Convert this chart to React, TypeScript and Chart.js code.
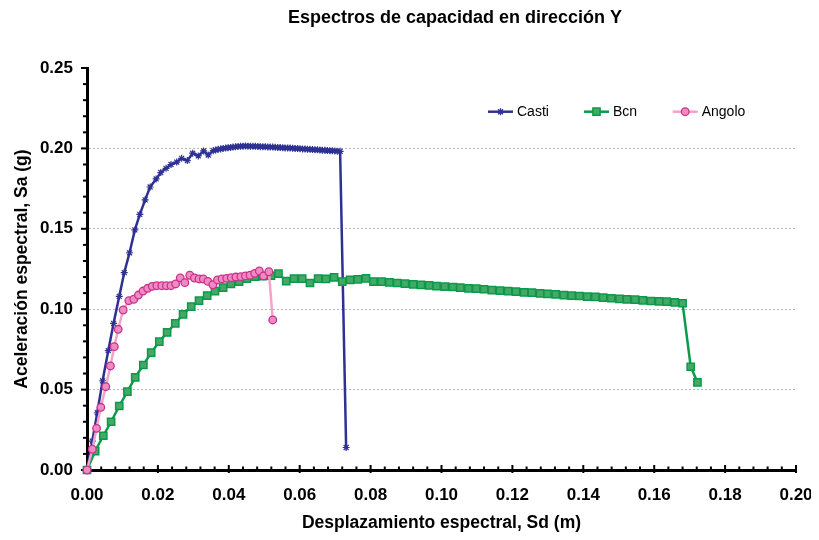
import React, { useEffect, useRef } from "react";
import { Chart, registerables } from "chart.js";

Chart.register(...registerables);

const TITLE = "Espectros de capacidad en dirección Y";
const X_TITLE = "Desplazamiento espectral, Sd (m)";
const Y_TITLE = "Aceleración espectral, Sa (g)";
const SERIES_NAMES = ["Casti", "Bcn", "Angolo"];

const castiSd = [
  0, 0.0015, 0.0029, 0.0044, 0.006, 0.0075, 0.0091, 0.0105, 0.012, 0.0135, 0.0149, 0.0164,
  0.0178, 0.0195, 0.0208, 0.0223, 0.0237, 0.0253, 0.0267, 0.0283, 0.0298, 0.0314, 0.0329,
  0.0342, 0.0356, 0.0363, 0.037, 0.0377, 0.0384, 0.0391, 0.0398, 0.0405, 0.0412, 0.0419,
  0.0426, 0.0433, 0.044, 0.0447, 0.0454, 0.0461, 0.0468, 0.0475, 0.0482, 0.0489, 0.0496,
  0.0503, 0.051, 0.0517, 0.0524, 0.0531, 0.0538, 0.0545, 0.0552, 0.0559, 0.0566, 0.0573,
  0.058, 0.0587, 0.0594, 0.0601, 0.0608, 0.0615, 0.0622, 0.0629, 0.0636, 0.0643, 0.065,
  0.0657, 0.0664, 0.0671, 0.0678, 0.0685, 0.0692, 0.0699, 0.0706, 0.0714, 0.0731,
];
const castiSa = [
  0, 0.018, 0.0356, 0.0555, 0.0742, 0.0912, 0.108, 0.1227, 0.1351, 0.1493, 0.159, 0.168,
  0.176, 0.181, 0.185, 0.1876, 0.19, 0.1915, 0.1938, 0.1924, 0.197, 0.1953, 0.1984,
  0.1959, 0.1986, 0.199, 0.1994, 0.1997, 0.2, 0.2002, 0.2004, 0.2006, 0.2008, 0.201,
  0.2012, 0.2013, 0.2014, 0.2015, 0.2014, 0.2014, 0.2013, 0.2013, 0.2012, 0.2011, 0.2011,
  0.201, 0.2009, 0.2008, 0.2008, 0.2007, 0.2006, 0.2005, 0.2004, 0.2003, 0.2003, 0.2002,
  0.2001, 0.2, 0.1999, 0.1998, 0.1997, 0.1996, 0.1995, 0.1994, 0.1993, 0.1992, 0.1991,
  0.199, 0.1989, 0.1988, 0.1987, 0.1986, 0.1985, 0.1984, 0.1983, 0.1982, 0.014,
];

const bcnSd = [
  0, 0.0023, 0.0046, 0.0068, 0.0091, 0.0114, 0.0136, 0.0159, 0.0181, 0.0204, 0.0226,
  0.0249, 0.0271, 0.0294, 0.0316, 0.0339, 0.0361, 0.0384, 0.0406, 0.0429, 0.0451, 0.0474,
  0.0496, 0.0519, 0.054, 0.0562, 0.0584, 0.0607, 0.0629, 0.0652, 0.0674, 0.0697, 0.072,
  0.0742, 0.0764, 0.0787, 0.0808, 0.0831, 0.0853, 0.0875, 0.0897, 0.092, 0.0942, 0.0965,
  0.0986, 0.1009, 0.1032, 0.1053, 0.1076, 0.1098, 0.112, 0.1142, 0.1165, 0.1188, 0.121,
  0.1233, 0.1255, 0.1278, 0.1299, 0.1322, 0.1345, 0.1367, 0.1389, 0.1411, 0.1434, 0.1456,
  0.1479, 0.1502, 0.1523, 0.1546, 0.1568, 0.1591, 0.1614, 0.1635, 0.1658, 0.168, 0.1703,
  0.1722,
];
const bcnSa = [
  0, 0.0118, 0.0213, 0.03, 0.0398, 0.0487, 0.0576, 0.0653, 0.073, 0.0798, 0.0856, 0.0912,
  0.0968, 0.1016, 0.1053, 0.1085, 0.1113, 0.1134, 0.1157, 0.1171, 0.119, 0.1202, 0.1206,
  0.1208, 0.1221, 0.1175, 0.119, 0.119, 0.1163, 0.119, 0.1188, 0.1198, 0.1171, 0.1182,
  0.1186, 0.1192, 0.1171, 0.1171, 0.1167, 0.1163, 0.1159, 0.1155, 0.1151, 0.1148, 0.1144,
  0.114, 0.1138, 0.1134, 0.113, 0.1128, 0.1124, 0.1119, 0.1115, 0.1113, 0.1109, 0.1105,
  0.1103, 0.1099, 0.1095, 0.1092, 0.1088, 0.1084, 0.1082, 0.1078, 0.1076, 0.1072, 0.1068,
  0.1064, 0.1061, 0.1059, 0.1055, 0.1051, 0.1049, 0.1047, 0.1043, 0.1037, 0.0642, 0.0545,
];

const angoloSd = [
  0, 0.0015, 0.0027, 0.0039, 0.0053, 0.0066, 0.0077, 0.0088, 0.0102, 0.0118, 0.0132,
  0.0145, 0.0158, 0.0171, 0.0184, 0.0197, 0.0211, 0.0224, 0.0237, 0.025, 0.0263, 0.0276,
  0.029, 0.0303, 0.0316, 0.0328, 0.0341, 0.0355, 0.0368, 0.0381, 0.0394, 0.0407, 0.042,
  0.0434, 0.0447, 0.046, 0.0473, 0.0486, 0.0498, 0.0513, 0.0524,
];
const angoloSa = [
  0, 0.0129, 0.0259, 0.039, 0.0518, 0.0647, 0.0767, 0.0875, 0.0995, 0.1053, 0.1062,
  0.1088, 0.1113, 0.113, 0.1142, 0.1146, 0.1146, 0.1146, 0.1146, 0.1157, 0.1195, 0.1165,
  0.1211, 0.1194, 0.1188, 0.1188, 0.1173, 0.1152, 0.1182, 0.1188, 0.1192, 0.1196, 0.12,
  0.1202, 0.1207, 0.1211, 0.1223, 0.1238, 0.1207, 0.1233, 0.0933,
];

const X_MIN = 0;
const X_MAX = 0.2;
const X_STEP = 0.02;
const X_MINOR = 0.004;
const Y_MIN = 0;
const Y_MAX = 0.25;
const Y_STEP = 0.05;
const Y_MINOR = 0.01;

const FONT = "'Liberation Sans', Arial, Helvetica, sans-serif";

const COLORS = {
  casti: "#2E3192",
  bcnLine: "#0A9A4A",
  bcnFill: "#45A867",
  angoloLine: "#F4A3C7",
  angoloFill: "#F08BC0",
  angoloBorder: "#C8318F",
};

const toPoints = (xs: number[], ys: number[]) => xs.map((x, i) => ({ x, y: ys[i] }));

function drawMarker(ctx: CanvasRenderingContext2D, kind: string, x: number, y: number) {
  ctx.save();
  if (kind === "star") {
    ctx.strokeStyle = COLORS.casti;
    ctx.lineWidth = 1.3;
    const r = 3.5;
    ctx.beginPath();
    ctx.moveTo(x - r, y); ctx.lineTo(x + r, y);
    ctx.moveTo(x, y - r); ctx.lineTo(x, y + r);
    const d = r * Math.SQRT1_2;
    ctx.moveTo(x - d, y - d); ctx.lineTo(x + d, y + d);
    ctx.moveTo(x - d, y + d); ctx.lineTo(x + d, y - d);
    ctx.stroke();
  } else if (kind === "rect") {
    ctx.fillStyle = COLORS.bcnFill;
    ctx.strokeStyle = COLORS.bcnLine;
    ctx.lineWidth = 1.5;
    ctx.beginPath();
    ctx.rect(x - 3.6, y - 3.6, 7.2, 7.2);
    ctx.fill();
    ctx.stroke();
  } else {
    ctx.fillStyle = COLORS.angoloFill;
    ctx.strokeStyle = COLORS.angoloBorder;
    ctx.lineWidth = 1.3;
    ctx.beginPath();
    ctx.arc(x, y, 3.8, 0, Math.PI * 2);
    ctx.fill();
    ctx.stroke();
  }
  ctx.restore();
}

const titlePlugin = {
  id: "customTitle",
  afterDraw(chart: any) {
    const { ctx } = chart;
    ctx.save();
    ctx.font = `bold 18px ${FONT}`;
    ctx.fillStyle = "#000";
    ctx.textAlign = "center";
    ctx.textBaseline = "middle";
    ctx.fillText(TITLE, 447, 10);
    ctx.restore();
  },
};

const legendPlugin = {
  id: "customLegend",
  afterDatasetsDraw(chart: any) {
    const { ctx } = chart;
    const y = 103.7;
    const starts = [480, 576, 664.7];
    const lineColors = [COLORS.casti, COLORS.bcnLine, COLORS.angoloLine];
    const kinds = ["star", "rect", "circle"];
    ctx.save();
    SERIES_NAMES.forEach((name, i) => {
      const x0 = starts[i];
      ctx.strokeStyle = lineColors[i];
      ctx.lineWidth = 2.5;
      ctx.beginPath();
      ctx.moveTo(x0, y);
      ctx.lineTo(x0 + 25, y);
      ctx.stroke();
      drawMarker(ctx, kinds[i], x0 + 12.5, y);
      ctx.font = `14px ${FONT}`;
      ctx.fillStyle = "#000";
      ctx.textAlign = "left";
      ctx.textBaseline = "middle";
      ctx.fillText(name, x0 + 29, y + 0.5);
    });
    ctx.restore();
  },
};

const tickPlugin = {
  id: "axisTicks",
  beforeDatasetsDraw(chart: any) {
    const { ctx, chartArea, scales } = chart;
    const xs = scales.x;
    const ys = scales.y;
    ctx.save();
    ctx.strokeStyle = "#000";
    ctx.lineWidth = 2;
    const nx = Math.round((X_MAX - X_MIN) / X_MINOR);
    const perX = Math.round(X_STEP / X_MINOR);
    for (let i = 0; i <= nx; i++) {
      const px = xs.getPixelForValue(X_MIN + i * X_MINOR);
      const major = i % perX === 0;
      ctx.beginPath();
      ctx.moveTo(px, chartArea.bottom - (major ? 5 : 3.5));
      ctx.lineTo(px, chartArea.bottom + (major ? 3 : 1));
      ctx.stroke();
    }
    const ny = Math.round((Y_MAX - Y_MIN) / Y_MINOR);
    const perY = Math.round(Y_STEP / Y_MINOR);
    for (let i = 0; i <= ny; i++) {
      const py = ys.getPixelForValue(Y_MIN + i * Y_MINOR);
      const major = i % perY === 0;
      ctx.beginPath();
      ctx.moveTo(chartArea.left - (major ? 6 : 4), py);
      ctx.lineTo(chartArea.left, py);
      ctx.stroke();
    }
    ctx.restore();
  },
};

export default function App() {
  const canvasRef = useRef<HTMLCanvasElement | null>(null);

  useEffect(() => {
    if (!canvasRef.current) return;
    const chart = new Chart(canvasRef.current, {
      type: "line",
      data: {
        datasets: [
          {
            label: SERIES_NAMES[0],
            data: toPoints(castiSd, castiSa),
            borderColor: COLORS.casti,
            backgroundColor: COLORS.casti,
            borderWidth: 2.5,
            pointStyle: "star",
            pointRadius: 3.5,
            pointBorderWidth: 1.2,
            pointBorderColor: COLORS.casti,
            pointBackgroundColor: COLORS.casti,
            tension: 0,
            clip: false,
            order: 2,
          } as any,
          {
            label: SERIES_NAMES[1],
            data: toPoints(bcnSd, bcnSa),
            borderColor: COLORS.bcnLine,
            backgroundColor: COLORS.bcnFill,
            borderWidth: 2.5,
            pointStyle: "rect",
            pointRadius: 5.1,
            pointBorderWidth: 1.5,
            pointBorderColor: COLORS.bcnLine,
            pointBackgroundColor: COLORS.bcnFill,
            tension: 0,
            clip: false,
            order: 1,
          } as any,
          {
            label: SERIES_NAMES[2],
            data: toPoints(angoloSd, angoloSa),
            borderColor: COLORS.angoloLine,
            backgroundColor: COLORS.angoloFill,
            borderWidth: 2.5,
            pointStyle: "circle",
            pointRadius: 3.8,
            pointBorderWidth: 1.3,
            pointBorderColor: COLORS.angoloBorder,
            pointBackgroundColor: COLORS.angoloFill,
            tension: 0,
            clip: false,
            order: 0,
          } as any,
        ],
      },
      options: {
        animation: false,
        responsive: true,
        maintainAspectRatio: false,
        layout: { padding: { top: 60, right: 15, left: 0, bottom: 0 } },
        plugins: {
          legend: { display: false },
          title: { display: false },
          tooltip: { enabled: false },
        },
        scales: {
          x: {
            type: "linear",
            min: X_MIN,
            max: X_MAX,
            afterFit: (s: any) => {
              s.height = 66;
              s.paddingLeft = 0;
              s.paddingRight = 0;
            },
            ticks: {
              stepSize: X_STEP,
              callback: (v: any) => Number(v).toFixed(2),
              color: "#000",
              font: { family: FONT, size: 17, weight: "bold" },
              padding: 15,
              maxRotation: 0,
              autoSkip: false,
            },
            grid: { drawOnChartArea: false, drawTicks: false },
            border: { display: true, color: "#000", width: 3 },
            title: {
              display: true,
              text: X_TITLE,
              color: "#000",
              font: { family: FONT, size: 17.5, weight: "bold" },
              padding: { top: 0, bottom: 2 },
            },
          },
          y: {
            type: "linear",
            min: Y_MIN,
            max: Y_MAX,
            afterFit: (s: any) => {
              s.width = 79;
              s.paddingTop = 0;
              s.paddingBottom = 0;
            },
            ticks: {
              stepSize: Y_STEP,
              callback: (v: any) => Number(v).toFixed(2),
              color: "#000",
              font: { family: FONT, size: 17, weight: "bold" },
              padding: 14,
            },
            grid: {
              drawTicks: false,
              color: (c: any) => {
                const v = c.tick ? c.tick.value : 0;
                return v <= Y_MIN + 1e-9 || v >= Y_MAX - 1e-9 ? "rgba(0,0,0,0)" : "#B5B5B5";
              },
              lineWidth: 1,
            },
            border: { display: true, color: "#000", width: 3, dash: [2, 2] },
            title: {
              display: true,
              text: Y_TITLE,
              color: "#000",
              font: { family: FONT, size: 17.5, weight: "bold" },
              padding: { top: 4, bottom: 0 },
            },
          },
        },
      },
      plugins: [tickPlugin, legendPlugin, titlePlugin],
    });
    return () => chart.destroy();
  }, []);

  return (
    <div style={{ position: "relative", width: 803, height: 528 }}>
      <canvas ref={canvasRef} />
    </div>
  );
}
